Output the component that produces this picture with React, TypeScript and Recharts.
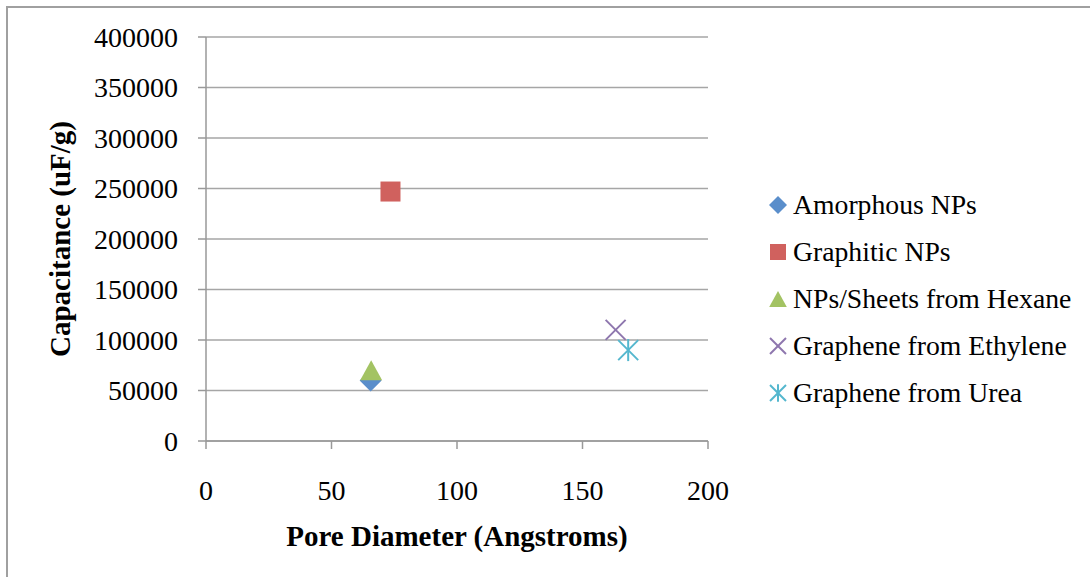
import React from 'react';
import { ScatterChart, Scatter, XAxis, YAxis, CartesianGrid, Label } from 'recharts';

const seriesNames = [
  'Amorphous NPs',
  'Graphitic NPs',
  'NPs/Sheets from Hexane',
  'Graphene from Ethylene',
  'Graphene from Urea',
];
const seriesColors = ['#5A8ECB', '#D0615E', '#A3C363', '#8E76AE', '#54B7CE'];
const markerKinds = ['diamond', 'square', 'triangle', 'x', 'asterisk'];

// one sample per series: pore diameter (Å) and capacitance (uF/g)
const poreDiameter = [65.6, 73.5, 65.8, 163.2, 168.2];
const capacitance = [60000, 247000, 70000, 110000, 90000];

const xTicks = [0, 50, 100, 150, 200];
const yTicks = [0, 50000, 100000, 150000, 200000, 250000, 300000, 350000, 400000];

const FONT = '"Liberation Serif", "Times New Roman", serif';
const GRID = '#a6a6a6';

function Marker({ kind, cx, cy, color, r }: { kind: string; cx: number; cy: number; color: string; r: number }) {
  switch (kind) {
    case 'diamond':
      return <path d={`M${cx},${cy - r} L${cx + r},${cy} L${cx},${cy + r} L${cx - r},${cy} Z`} fill={color} />;
    case 'square':
      return <rect x={cx - r} y={cy - r} width={r * 2} height={r * 2} fill={color} />;
    case 'triangle':
      return <path d={`M${cx},${cy - r} L${cx + r * 1.1},${cy + r} L${cx - r * 1.1},${cy + r} Z`} fill={color} />;
    case 'x':
      return (
        <g stroke={color} strokeWidth={2}>
          <line x1={cx - r} y1={cy - r} x2={cx + r} y2={cy + r} />
          <line x1={cx - r} y1={cy + r} x2={cx + r} y2={cy - r} />
        </g>
      );
    default:
      return (
        <g stroke={color} strokeWidth={2}>
          <line x1={cx - r} y1={cy - r} x2={cx + r} y2={cy + r} />
          <line x1={cx - r} y1={cy + r} x2={cx + r} y2={cy - r} />
          <line x1={cx} y1={cy - r * 1.1} x2={cx} y2={cy + r * 1.1} />
        </g>
      );
  }
}

const series = seriesNames.map((name, i) => ({
  name,
  color: seriesColors[i],
  kind: markerKinds[i],
  data: [{ x: poreDiameter[i], y: capacitance[i] }],
}));

function LegendBox() {
  return (
    <div style={{ position: 'absolute', left: 767, top: 181, fontFamily: FONT, fontSize: 27.7, color: '#000' }}>
      {series.map((s) => (
        <div key={s.name} style={{ display: 'flex', alignItems: 'center', height: 47, whiteSpace: 'nowrap' }}>
          <svg width={22} height={22} style={{ marginRight: 4 }}>
            <Marker kind={s.kind} cx={11} cy={11} color={s.color} r={s.kind === 'diamond' ? 9 : 8} />
          </svg>
          <span>{s.name}</span>
        </div>
      ))}
    </div>
  );
}

export default function App() {
  return (
    <div style={{ position: 'absolute', left: 0, top: 0, width: 1090, height: 577, overflow: 'hidden', background: '#fff' }}>
      <div
        style={{
          position: 'absolute',
          left: 6,
          top: 6,
          width: 1200,
          height: 700,
          border: '2px solid #a0a0a0',
        }}
      />
      <div style={{ position: 'absolute', left: 0, top: 0 }}>
        <ScatterChart width={1090} height={577} margin={{ top: 37, right: 382, left: 0, bottom: 0 }}>
          <CartesianGrid horizontal vertical={false} stroke={GRID} strokeWidth={1.5} />
          <XAxis
            type="number"
            dataKey="x"
            domain={[0, 200]}
            ticks={xTicks}
            interval={0}
            height={136}
            stroke="#999"
            strokeWidth={1.5}
            tickSize={8}
            tickMargin={31}
            tick={{ fill: '#000', fontFamily: FONT, fontSize: 28 }}
          >
            <Label
              value="Pore Diameter (Angstroms)"
              position="center"
              dy={27}
              style={{ fontFamily: FONT, fontSize: 29, fontWeight: 'bold', fill: '#000' }}
            />
          </XAxis>
          <YAxis
            type="number"
            dataKey="y"
            domain={[0, 400000]}
            ticks={yTicks}
            interval={0}
            width={206}
            stroke="#999"
            strokeWidth={1.5}
            tickSize={8}
            tickMargin={20}
            tick={{ fill: '#000', fontFamily: FONT, fontSize: 28 }}
          >
            <Label
              value="Capacitance (uF/g)"
              position="center"
              angle={-90}
              dx={-43}
              style={{ fontFamily: FONT, fontSize: 29, fontWeight: 'bold', fill: '#000', textAnchor: 'middle' }}
            />
          </YAxis>
          {series.map((s) => (
            <Scatter
              key={s.name}
              name={s.name}
              data={s.data}
              isAnimationActive={false}
              shape={(p: any) => (
                <Marker kind={s.kind} cx={p.cx} cy={p.cy} color={s.color} r={s.kind === 'diamond' ? 11 : 10} />
              )}
            />
          ))}
        </ScatterChart>
      </div>
      <LegendBox />
    </div>
  );
}
